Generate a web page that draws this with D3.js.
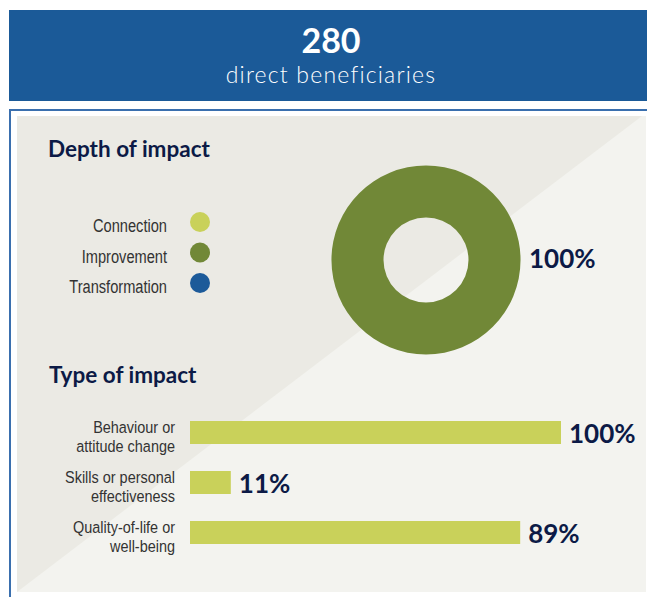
<!DOCTYPE html>
<html>
<head>
<meta charset="utf-8">
<script src="https://cdn.jsdelivr.net/npm/d3@7"></script>
<style>
    body { margin: 0; background: #ffffff; }
    svg { display: block; }
</style>
</head>
<body>
<svg id="graph"></svg>
<script>
//Data
var headlineNumber = "280";
var headlineText = "direct beneficiaries";

var depthCategories = ["Connection", "Improvement", "Transformation"];
var depthValues = [0, 100, 0];
var depthColors = ["#c9d15a", "#718837", "#1c5a99"];

var typeCategories = ["Behaviour or|attitude change", "Skills or personal|effectiveness", "Quality-of-life or|well-being"];
var typeValues = [100, 11, 89];

//Set graph size
var screen = {width: 647, height: 597};

var svg = d3.select("#graph")
    .attr("width", screen.width)
    .attr("height", screen.height);

var navy = "#0c1a46";
//No narrow face installed, so squeeze a normal one
var narrowFont = "'Liberation Sans', Arial, sans-serif";

//Header band
svg.append("rect")
    .attr("x", 9).attr("y", 10)
    .attr("width", 650).attr("height", 91)
    .attr("fill", "#1b5a98");

svg.append("text")
    .attr("x", 331).attr("y", 53)
    .attr("text-anchor", "middle")
    .attr("fill", "#ffffff")
    .style("font", "bold 34px Lato")
    .text(headlineNumber);

svg.append("text")
    .attr("x", 331).attr("y", 83)
    .attr("text-anchor", "middle")
    .attr("fill", "#ffffff")
    .style("font", "300 23px Lato")
    .style("letter-spacing", "1.2px")
    .text(headlineText);

//Frame and panel
svg.append("rect")
    .attr("x", 10).attr("y", 110)
    .attr("width", 660).attr("height", 520)
    .attr("fill", "#ffffff")
    .attr("stroke", "#3a6fae")
    .attr("stroke-width", 2);

var panel = {x0: 17, y0: 116, x1: 646, y1: 592};

svg.append("rect")
    .attr("x", panel.x0).attr("y", panel.y0)
    .attr("width", panel.x1 - panel.x0).attr("height", panel.y1 - panel.y0)
    .attr("fill", "#f3f3ef");

svg.append("polygon")
    .attr("points", [[panel.x0, panel.y0], [642, panel.y0], [panel.x0, panel.y1]].join(" "))
    .attr("fill", "#ebeae4");

//Section titles
svg.append("text")
    .attr("x", 48).attr("y", 157)
    .attr("fill", navy)
    .style("font", "bold 22.5px Lato")
    .text("Depth of impact");

svg.append("text")
    .attr("x", 49).attr("y", 383)
    .attr("fill", navy)
    .style("font", "bold 22.5px Lato")
    .text("Type of impact");

//Legend for depth of impact
var legendY = d3.scalePoint()
    .domain(depthCategories)
    .range([222, 283]);

var legend = svg.append("g")
    .selectAll("g")
    .data(depthCategories)
    .enter()
    .append("g");

legend.append("circle")
    .attr("cx", 200)
    .attr("cy", function(d){ return legendY(d); })
    .attr("r", 10)
    .attr("fill", function(d, i){ return depthColors[i]; });

legend.append("text")
    .attr("transform", function(d){ return "translate(167," + (legendY(d) + 10) + ") scale(0.77,1)"; })
    .attr("text-anchor", "end")
    .attr("fill", "#333333")
    .style("font", "19px " + narrowFont)
    .text(function(d){ return d; });

//Donut for depth of impact
var donut = {cx: 426, cy: 260, inner: 42.5, outer: 94.5};

var pie = d3.pie().sort(null);
var arc = d3.arc().innerRadius(donut.inner).outerRadius(donut.outer);

var slices = pie(depthValues);

svg.append("g")
    .attr("transform", "translate(" + donut.cx + "," + donut.cy + ")")
    .selectAll("path")
    .data(slices)
    .enter()
    .append("path")
    .attr("d", arc)
    .attr("fill", function(d, i){ return depthColors[i]; });

//Label the slice that holds everyone
var biggest = d3.maxIndex(depthValues);
svg.append("text")
    .attr("x", donut.cx + donut.outer + 8.5)
    .attr("y", donut.cy + 8)
    .attr("fill", navy)
    .style("font", "bold 26px Lato")
    .text(depthValues[biggest] + "%");

//Bars for type of impact
var xScale = d3.scaleLinear()
    .domain([0, 100])
    .range([190, 561]);

var yScale = d3.scaleBand()
    .domain(typeCategories)
    .range([407.5, 557.5])
    .paddingInner(0.54)
    .paddingOuter(0.27);

var rows = svg.append("g")
    .selectAll("g")
    .data(typeCategories)
    .enter()
    .append("g");

rows.append("rect")
    .attr("x", xScale(0))
    .attr("y", function(d){ return yScale(d); })
    .attr("width", function(d, i){ return xScale(typeValues[i]) - xScale(0); })
    .attr("height", yScale.bandwidth())
    .attr("fill", "#c9d15a");

rows.append("text")
    .attr("x", function(d, i){ return xScale(typeValues[i]) + 8; })
    .attr("y", function(d){ return yScale(d) + yScale.bandwidth() / 2 + 10; })
    .attr("fill", navy)
    .style("font", "bold 26px Lato")
    .text(function(d, i){ return typeValues[i] + "%"; });

//Two line category labels
var catLabel = rows.append("text")
    .attr("transform", function(d){
        return "translate(175," + (yScale(d) + yScale.bandwidth() / 2) + ") scale(0.85,1)";
    })
    .attr("text-anchor", "end")
    .attr("fill", "#333333")
    .style("font", "17px " + narrowFont);

catLabel.selectAll("tspan")
    .data(function(d){
        return d.split("|").map(function(line, j){ return {line: line, dy: j * 19.5}; });
    })
    .enter()
    .append("tspan")
    .attr("x", 0)
    .attr("y", function(t){ return t.dy; })
    .text(function(t){ return t.line; });
</script>
</body>
</html>
